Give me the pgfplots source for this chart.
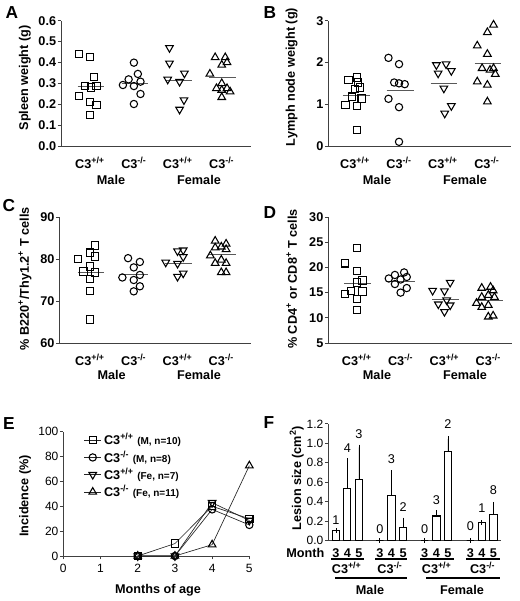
\documentclass[border=0pt]{standalone}
\usepackage{pgfplots}
\pgfplotsset{compat=1.18}
\usepackage{fontspec}
\setmainfont{Liberation Sans}
\newcommand{\fb}{\fontsize{9.5}{11}\selectfont\bfseries}
\newcommand{\fr}{\fontsize{9}{10.5}\selectfont}
\newcommand{\pp}{\textsuperscript{+/+}}
\newcommand{\mm}{\textsuperscript{-/-}}
\pgfplotsset{
  base/.style={scale only axis, axis lines=left, axis line style={-, line width=0.7pt, black!75},
    tick style={line width=0.7pt, black!75}, tick align=outside, major tick length=2.5pt,
    /pgf/number format/assume math mode=true, clip=false,
    ticklabel style={font=\fb}, yticklabel style={inner sep=1pt}},
  scat/.style={base, xtick={1,2,3,4}, xticklabels={C3\pp, C3\mm, C3\pp, C3\mm},
    major x tick style=transparent, xticklabel style={font=\fb, yshift=-2pt}},
  sq/.style={only marks, mark=square, mark size=2.75pt, mark options={line width=0.8pt, black}},
  ci/.style={only marks, mark=o, mark size=2.75pt, mark options={line width=0.8pt, black}},
  dt/.style={only marks, mark=triangle, mark size=3.3pt, mark options={rotate=180, line width=0.8pt, black}},
  ut/.style={only marks, mark=triangle, mark size=3.3pt, mark options={line width=0.8pt, black}},
  mean/.style={no marks, black!65, line width=0.6pt},
}
\begin{document}
\begin{tikzpicture}
% ---------------- A
\begin{axis}[scat, at={(45.75pt,341.25pt)}, anchor=south west, width=142.3pt, height=94pt,
  xmin=0.34, xmax=4.66, ymin=0, ymax=0.6, ytick={0,0.1,0.2,0.3,0.4,0.5,0.6},
  yticklabel style={/pgf/number format/.cd, fixed, fixed zerofill, precision=1}]
\addplot[sq] coordinates {(0.75,0.44)(1,0.425)(1.09,0.33)(0.88,0.287)(1.15,0.287)(0.75,0.24)(1,0.212)(1.15,0.195)(1,0.148)(1.02,0.28)};
\addplot[ci] coordinates {(2,0.399)(2.09,0.345)(1.88,0.319)(1.75,0.292)(2.15,0.308)(2,0.287)(2.15,0.249)(2,0.201)};
\addplot[dt] coordinates {(2.81,0.47)(2.81,0.396)(3.15,0.348)(2.77,0.319)(3.04,0.308)(3.14,0.22)(3.04,0.175)};
\addplot[ut] coordinates {(3.85,0.424)(4.08,0.424)(4,0.388)(3.73,0.345)(4,0.30)(3.88,0.276)(4.12,0.276)(4,0.268)(4.19,0.26)(4,0.233)(4.12,0.40)};
\addplot[mean] coordinates {(0.72,0.287)(1.33,0.287)};
\addplot[mean] coordinates {(1.72,0.30)(2.33,0.30)};
\addplot[mean] coordinates {(2.72,0.314)(3.33,0.314)};
\addplot[mean] coordinates {(3.72,0.327)(4.33,0.327)};
\end{axis}
% ---------------- B
\begin{axis}[scat, at={(246.2pt,341.25pt)}, anchor=south west, width=136.8pt, height=94pt,
  xmin=0.39, xmax=4.54, ymin=0, ymax=3, ytick={0,1,2,3}]
\addplot[sq] coordinates {(0.85,1.58)(1.04,1.64)(1.07,1.52)(1.11,1.40)(1,1.36)(0.93,1.18)(1.15,1.14)(0.78,0.98)(1.04,0.96)(1.04,0.38)};
\addplot[ci] coordinates {(1.76,2.11)(2,1.96)(1.89,1.52)(2.13,1.48)(2,1.50)(1.76,1.13)(2,0.93)(2,0.10)};
\addplot[dt] coordinates {(2.85,1.94)(3.07,1.96)(2.89,1.74)(3.19,1.80)(3.02,1.38)(3.19,0.96)(3.04,0.78)};
\addplot[ut] coordinates {(4.15,2.90)(4.01,2.72)(3.78,2.40)(4.01,2.20)(4.15,1.86)(3.89,1.86)(4.07,1.82)(4.19,1.72)(3.78,1.54)(4.01,1.46)(4.01,1.06)};
\addplot[mean] coordinates {(0.72,1.22)(1.33,1.22)};
\addplot[mean] coordinates {(1.72,1.34)(2.33,1.34)};
\addplot[mean] coordinates {(2.72,1.50)(3.33,1.50)};
\addplot[mean] coordinates {(3.72,1.98)(4.33,1.98)};
\end{axis}
% ---------------- C
\begin{axis}[scat, at={(44.5pt,193.5pt)}, anchor=south west, width=143.8pt, height=94.5pt,
  xmin=0.30, xmax=4.68, ymin=60, ymax=90, ytick={60,70,80,90}]
\addplot[sq] coordinates {(1.12,83.2)(1,81.5)(1.12,80.6)(0.73,80.0)(1,78.2)(0.85,77.0)(1.12,76.8)(1,75.2)(1,72.4)(1,65.6)};
\addplot[ci] coordinates {(1.87,80.2)(2.14,79.3)(2,78.0)(1.74,75.6)(2.14,76.2)(2,75.0)(2.14,73.5)(2,72.3)};
\addplot[dt] coordinates {(3,81.9)(3.13,82.1)(3.13,80.5)(2.73,79.2)(3,78.9)(3.13,76.6)(3,75.8)};
\addplot[ut] coordinates {(3.86,84.3)(4.11,83.6)(3.86,82.7)(4,82.9)(4.11,82.3)(3.75,80.8)(4,79.8)(3.86,79.0)(4.11,79.0)(4,76.8)(4.11,76.8)};
\addplot[mean] coordinates {(0.72,76.9)(1.33,76.9)};
\addplot[mean] coordinates {(1.72,76.4)(2.33,76.4)};
\addplot[mean] coordinates {(2.72,78.9)(3.33,78.9)};
\addplot[mean] coordinates {(3.72,81.0)(4.33,81.0)};
\end{axis}
% ---------------- D
\begin{axis}[scat, at={(246.2pt,193.5pt)}, anchor=south west, width=137.8pt, height=94.5pt,
  xmin=0.35, xmax=4.54, ymin=5, ymax=30, ytick={5,10,15,20,25,30}]
\addplot[sq] coordinates {(1,23.8)(0.73,20.8)(1,19.3)(1,17.0)(1.13,17.4)(0.87,15.3)(0.73,14.7)(1.13,15.2)(1,13.7)(1,11.6)};
\addplot[ci] coordinates {(2.08,19.0)(1.87,18.5)(1.73,17.8)(2,17.6)(2.14,18.1)(1.87,16.7)(2.14,15.9)(2,15.0)};
\addplot[dt] coordinates {(3.13,17.0)(2.73,15.4)(3,15.3)(2.86,12.7)(3.13,12.5)(3,11.2)(3.05,13.5)};
\addplot[ut] coordinates {(3.85,15.9)(4.05,16.1)(4.11,15.4)(3.85,14.1)(4,14.5)(4.14,14.1)(3.73,12.9)(3.85,12.1)(4,12.5)(4,10.2)(4.11,10.4)};
\addplot[mean] coordinates {(0.72,16.9)(1.33,16.9)};
\addplot[mean] coordinates {(1.72,17.3)(2.33,17.3)};
\addplot[mean] coordinates {(2.72,13.7)(3.33,13.7)};
\addplot[mean] coordinates {(3.72,13.5)(4.33,13.5)};
\end{axis}
% ---------------- E
\begin{axis}[base, at={(47.5pt,33.75pt)}, anchor=south west, width=139.5pt, height=93.2pt,
  xmin=0, xmax=5, ymin=0, ymax=100, xtick={0,1,2,3,4,5}, ytick={0,20,40,60,80,100},
  ticklabel style={font=\fr},
  reverse legend, legend cell align=left,
  legend style={draw=none, fill=none, at={(axis cs:0.55,101)}, anchor=north west, font=\fb,
    row sep=-1.2pt, inner sep=0pt},
  legend image code/.code={\draw[mark repeat=2,mark phase=2] plot coordinates {(0cm,0cm) (0.22cm,0cm) (0.44cm,0cm)};}]
\addplot[black!85, line width=0.5pt, mark=triangle, mark size=3.3pt, mark options={fill=white, line width=0.8pt, black}] coordinates {(2,0)(3,0)(4,9.1)(5,72.7)};
\addlegendentry{C3\mm\ {\fontsize{7.5}{9}\selectfont (Fe, n=11)}}
\addplot[black!85, line width=0.5pt, mark=triangle, mark size=3.3pt, mark options={rotate=180, fill=white, line width=0.8pt, black}] coordinates {(2,0)(3,0)(4,42.9)(5,28.6)};
\addlegendentry{C3\pp\ {\fontsize{7.5}{9}\selectfont (Fe, n=7)}}
\addplot[black!85, line width=0.5pt, mark=o, mark size=2.75pt, mark options={fill=white, line width=0.8pt, black}] coordinates {(2,0)(3,0)(4,37.5)(5,25)};
\addlegendentry{C3\mm\ {\fontsize{7.5}{9}\selectfont (M, n=8)}}
\addplot[black!85, line width=0.5pt, mark=square, mark size=2.75pt, mark options={fill=white, line width=0.8pt, black}] coordinates {(2,0)(3,10)(4,40)(5,30)};
\addlegendentry{C3\pp\ {\fontsize{7.5}{9}\selectfont (M, n=10)}}
\end{axis}
% ---------------- F
\begin{axis}[base, at={(246.2pt,45.4pt)}, anchor=south west, width=129.7pt, height=87.4pt,
  xmin=-0.66, xmax=14.16, ymin=0, ymax=1.2, ytick={0,0.2,0.4,0.6,0.8,1.0,1.2},
  yticklabel style={font=\fr, /pgf/number format/.cd, fixed, fixed zerofill, precision=1},
  xtick={0,0.97,1.97,3.76,4.76,5.75,7.61,8.61,9.6,11.51,12.5,13.5},
  xticklabels={3,4,5,3,4,5,3,4,5,3,4,5}, major x tick style=transparent,
  xticklabel style={font=\fb}]
\addplot[ybar, bar width=5.5pt, fill=white, draw=black, line width=0.8pt,
  error bars/.cd, y dir=plus, y explicit,
  error bar style={black, line width=0.6pt}, error mark options={black, mark size=2pt, line width=0.6pt}]
  coordinates {(0,0.1) +- (0,0) (0.97,0.534) +- (0,0.286) (1.97,0.628) +- (0,0.331)
  (3.76,0) +- (0,0) (4.76,0.459) +- (0,0.238) (5.75,0.138) +- (0,0.069)
  (7.61,0) +- (0,0) (8.61,0.252) +- (0,0.034) (9.6,0.914) +- (0,0.131)
  (11.51,0) +- (0,0) (12.5,0.183) +- (0,0) (13.5,0.269) +- (0,0.10)};
\node[font=\fontsize{9.5}{11}\selectfont] at (axis cs:0,0.21) {1};
\node[font=\fontsize{9.5}{11}\selectfont] at (axis cs:0.97,0.95) {4};
\node[font=\fontsize{9.5}{11}\selectfont] at (axis cs:1.97,1.10) {3};
\node[font=\fontsize{9.5}{11}\selectfont] at (axis cs:3.76,0.12) {0};
\node[font=\fontsize{9.5}{11}\selectfont] at (axis cs:4.76,0.84) {3};
\node[font=\fontsize{9.5}{11}\selectfont] at (axis cs:5.75,0.34) {2};
\node[font=\fontsize{9.5}{11}\selectfont] at (axis cs:7.61,0.12) {0};
\node[font=\fontsize{9.5}{11}\selectfont] at (axis cs:8.61,0.42) {3};
\node[font=\fontsize{9.5}{11}\selectfont] at (axis cs:9.6,1.20) {2};
\node[font=\fontsize{9.5}{11}\selectfont] at (axis cs:11.51,0.145) {0};
\node[font=\fontsize{9.5}{11}\selectfont] at (axis cs:12.5,0.33) {1};
\node[font=\fontsize{9.5}{11}\selectfont] at (axis cs:13.5,0.52) {8};
\end{axis}
% ---------------- decorations in reference pixel coordinates
\begin{scope}[x=0.75pt, y=-0.75pt, yshift=450.75pt]
\foreach \l/\x/\y in {A/12/13, B/270/13, C/9/206, D/270/213, E/9/424, F/269/423}
  \node[font=\fontsize{13}{15}\selectfont\bfseries] at (\x,\y) {\l};
\node[rotate=90, font=\fb] at (25,78) {Spleen weight (g)};
\node[rotate=90, font=\fb] at (291.7,77) {Lymph node weight (g)};
\node[rotate=90, font=\fb] at (25,279) {\% B220\textsuperscript{+}/Thy1.2\textsuperscript{+} T cells};
\node[rotate=90, font=\fb] at (291.7,279) {\% CD4\textsuperscript{+} or CD8\textsuperscript{+} T cells};
\node[rotate=90, font=\fb] at (25,496) {Incidence (\%)};
\node[rotate=90, font=\fb] at (296.7,478) {Lesion size (cm\textsuperscript{2})};
\foreach \x/\y/\t in {111/180/Male, 199/180/Female, 377/180/Male, 465/180/Female,
  111.7/375/Male, 199/375/Female, 377/375/Male, 465/375/Female}
  \node[font=\fb] at (\x,\y) {\t};
\node[font=\fb] at (158,590) {Months of age};
\node[font=\fb, anchor=east] at (329,553) {Month};
\foreach \a/\b in {331/364, 375/407, 420/454, 466/500}
  \draw[line width=1pt] (\a,559)--(\b,559);
\node[font=\fb] at (346.7,567.5) {C3\pp};
\node[font=\fb] at (390,567.5) {C3\mm};
\node[font=\fb] at (436.7,567.5) {C3\pp};
\node[font=\fb] at (482.7,567.5) {C3\mm};
\draw[line width=1pt] (335,578)--(407,578);
\draw[line width=1pt] (426,578)--(500,578);
\node[font=\fb] at (370,590) {Male};
\node[font=\fb] at (462,590) {Female};
\end{scope}
\pgfresetboundingbox
\path[use as bounding box] (0,0) rectangle (390pt,450.75pt);
\end{tikzpicture}
\end{document}
